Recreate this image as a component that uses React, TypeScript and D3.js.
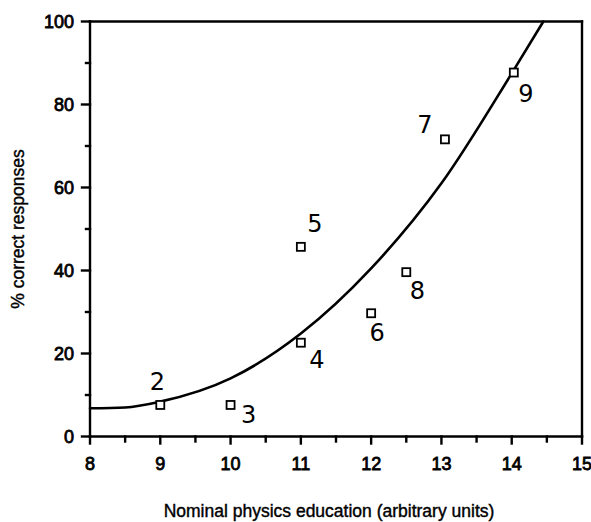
import React from "react";
import * as d3 from "d3";

const xTicks = [8, 9, 10, 11, 12, 13, 14, 15];
const xMinorTicks = [8.5, 9.5, 10.5, 11.5, 12.5, 13.5, 14.5];
const yTicks = [0, 20, 40, 60, 80, 100];
const yMinorTicks = [10, 30, 50, 70, 90];

const pointIds = ["2", "3", "4", "5", "6", "7", "8", "9"];
const pointX = [9, 10, 11, 11, 12, 13.05, 12.5, 14.03];
const pointY = [7.6, 7.6, 22.6, 45.7, 29.7, 71.6, 39.6, 87.7];
const labelDx = [-3, 18, 16, 14, 6, -20, 11, 12];
const labelDy = [-23, 10, 17, -23, 20, -14, 19, 21];

const curveX = [8, 8.5, 9, 10, 11, 12, 13, 14, 14.45];
const curveY = [6.8, 7.0, 8.4, 14, 24.8, 40.5, 61, 87.5, 100];

const xTitle = "Nominal physics education (arbitrary units)";
const yTitle = "% correct responses";

export default function App() {
  const W = 591, H = 522;
  const x = d3.scaleLinear().domain([8, 15]).range([90, 582]);
  const y = d3.scaleLinear().domain([0, 100]).range([436.5, 21.5]);
  const line = d3
    .line<number>()
    .x((_, i) => x(curveX[i]))
    .y((_, i) => y(curveY[i]))
    .curve(d3.curveMonotoneX);
  const font = "'Liberation Sans', Arial, Helvetica, sans-serif";
  const hand = "'DejaVu Sans', sans-serif";
  return (
    <svg width={W} height={H} style={{ position: "absolute", left: 0, top: 0, background: "#fff" }}>
      <g stroke="#000" strokeWidth={2.4} fill="none" strokeLinecap="square">
        <line x1={x(8)} x2={x(15)} y1={y(0)} y2={y(0)} />
        <line x1={x(8)} x2={x(8)} y1={y(0)} y2={y(100)} />
        <line x1={x(8)} x2={x(15)} y1={y(100)} y2={y(100)} />
        <line x1={x(15)} x2={x(15)} y1={y(0)} y2={y(100)} />
        {yTicks.map((t) => (
          <line key={"yt" + t} x1={x(8) - 8} x2={x(8)} y1={y(t)} y2={y(t)} />
        ))}
        {yMinorTicks.map((t) => (
          <line key={"ym" + t} x1={x(8) - 4} x2={x(8)} y1={y(t)} y2={y(t)} />
        ))}
        {xTicks.map((t) => (
          <line key={"xt" + t} x1={x(t)} x2={x(t)} y1={y(0)} y2={y(0) + 7} />
        ))}
        {xMinorTicks.map((t) => (
          <line key={"xm" + t} x1={x(t)} x2={x(t)} y1={y(0)} y2={y(0) + 5} />
        ))}
      </g>
      <path d={line(curveX) || ""} fill="none" stroke="#000" strokeWidth={2.6} strokeLinecap="round" />
      {pointIds.map((id, i) => (
        <rect
          key={"p" + id}
          x={x(pointX[i]) - 4}
          y={y(pointY[i]) - 4}
          width={8}
          height={8}
          fill="#fff"
          stroke="#000"
          strokeWidth={1.8}
        />
      ))}
      {pointIds.map((id, i) => (
        <text
          key={"l" + id}
          x={x(pointX[i]) + labelDx[i]}
          y={y(pointY[i]) + labelDy[i]}
          fontFamily={hand}
          fontSize={24}
          textAnchor="middle"
          dominantBaseline="central"
          fill="#000"
        >
          {id}
        </text>
      ))}
      <g fontFamily={font} fontSize={18} fill="#000" stroke="#000" strokeWidth={0.8}>
        {yTicks.map((t) => (
          <text key={"yl" + t} x={x(8) - 16} y={y(t)} textAnchor="end" dominantBaseline="central">
            {t}
          </text>
        ))}
        {xTicks.map((t) => (
          <text key={"xl" + t} x={x(t)} y={y(0) + 27} textAnchor="middle" dominantBaseline="central">
            {t}
          </text>
        ))}
      </g>
      <g fontFamily={font} fontSize={17.5} fill="#000" stroke="#000" strokeWidth={0.4}>
        <text x={329} y={511} textAnchor="middle" dominantBaseline="central">
          {xTitle}
        </text>
        <text
          transform={`translate(18,${229}) rotate(-90)`}
          textAnchor="middle"
          dominantBaseline="central"
        >
          {yTitle}
        </text>
      </g>
    </svg>
  );
}
